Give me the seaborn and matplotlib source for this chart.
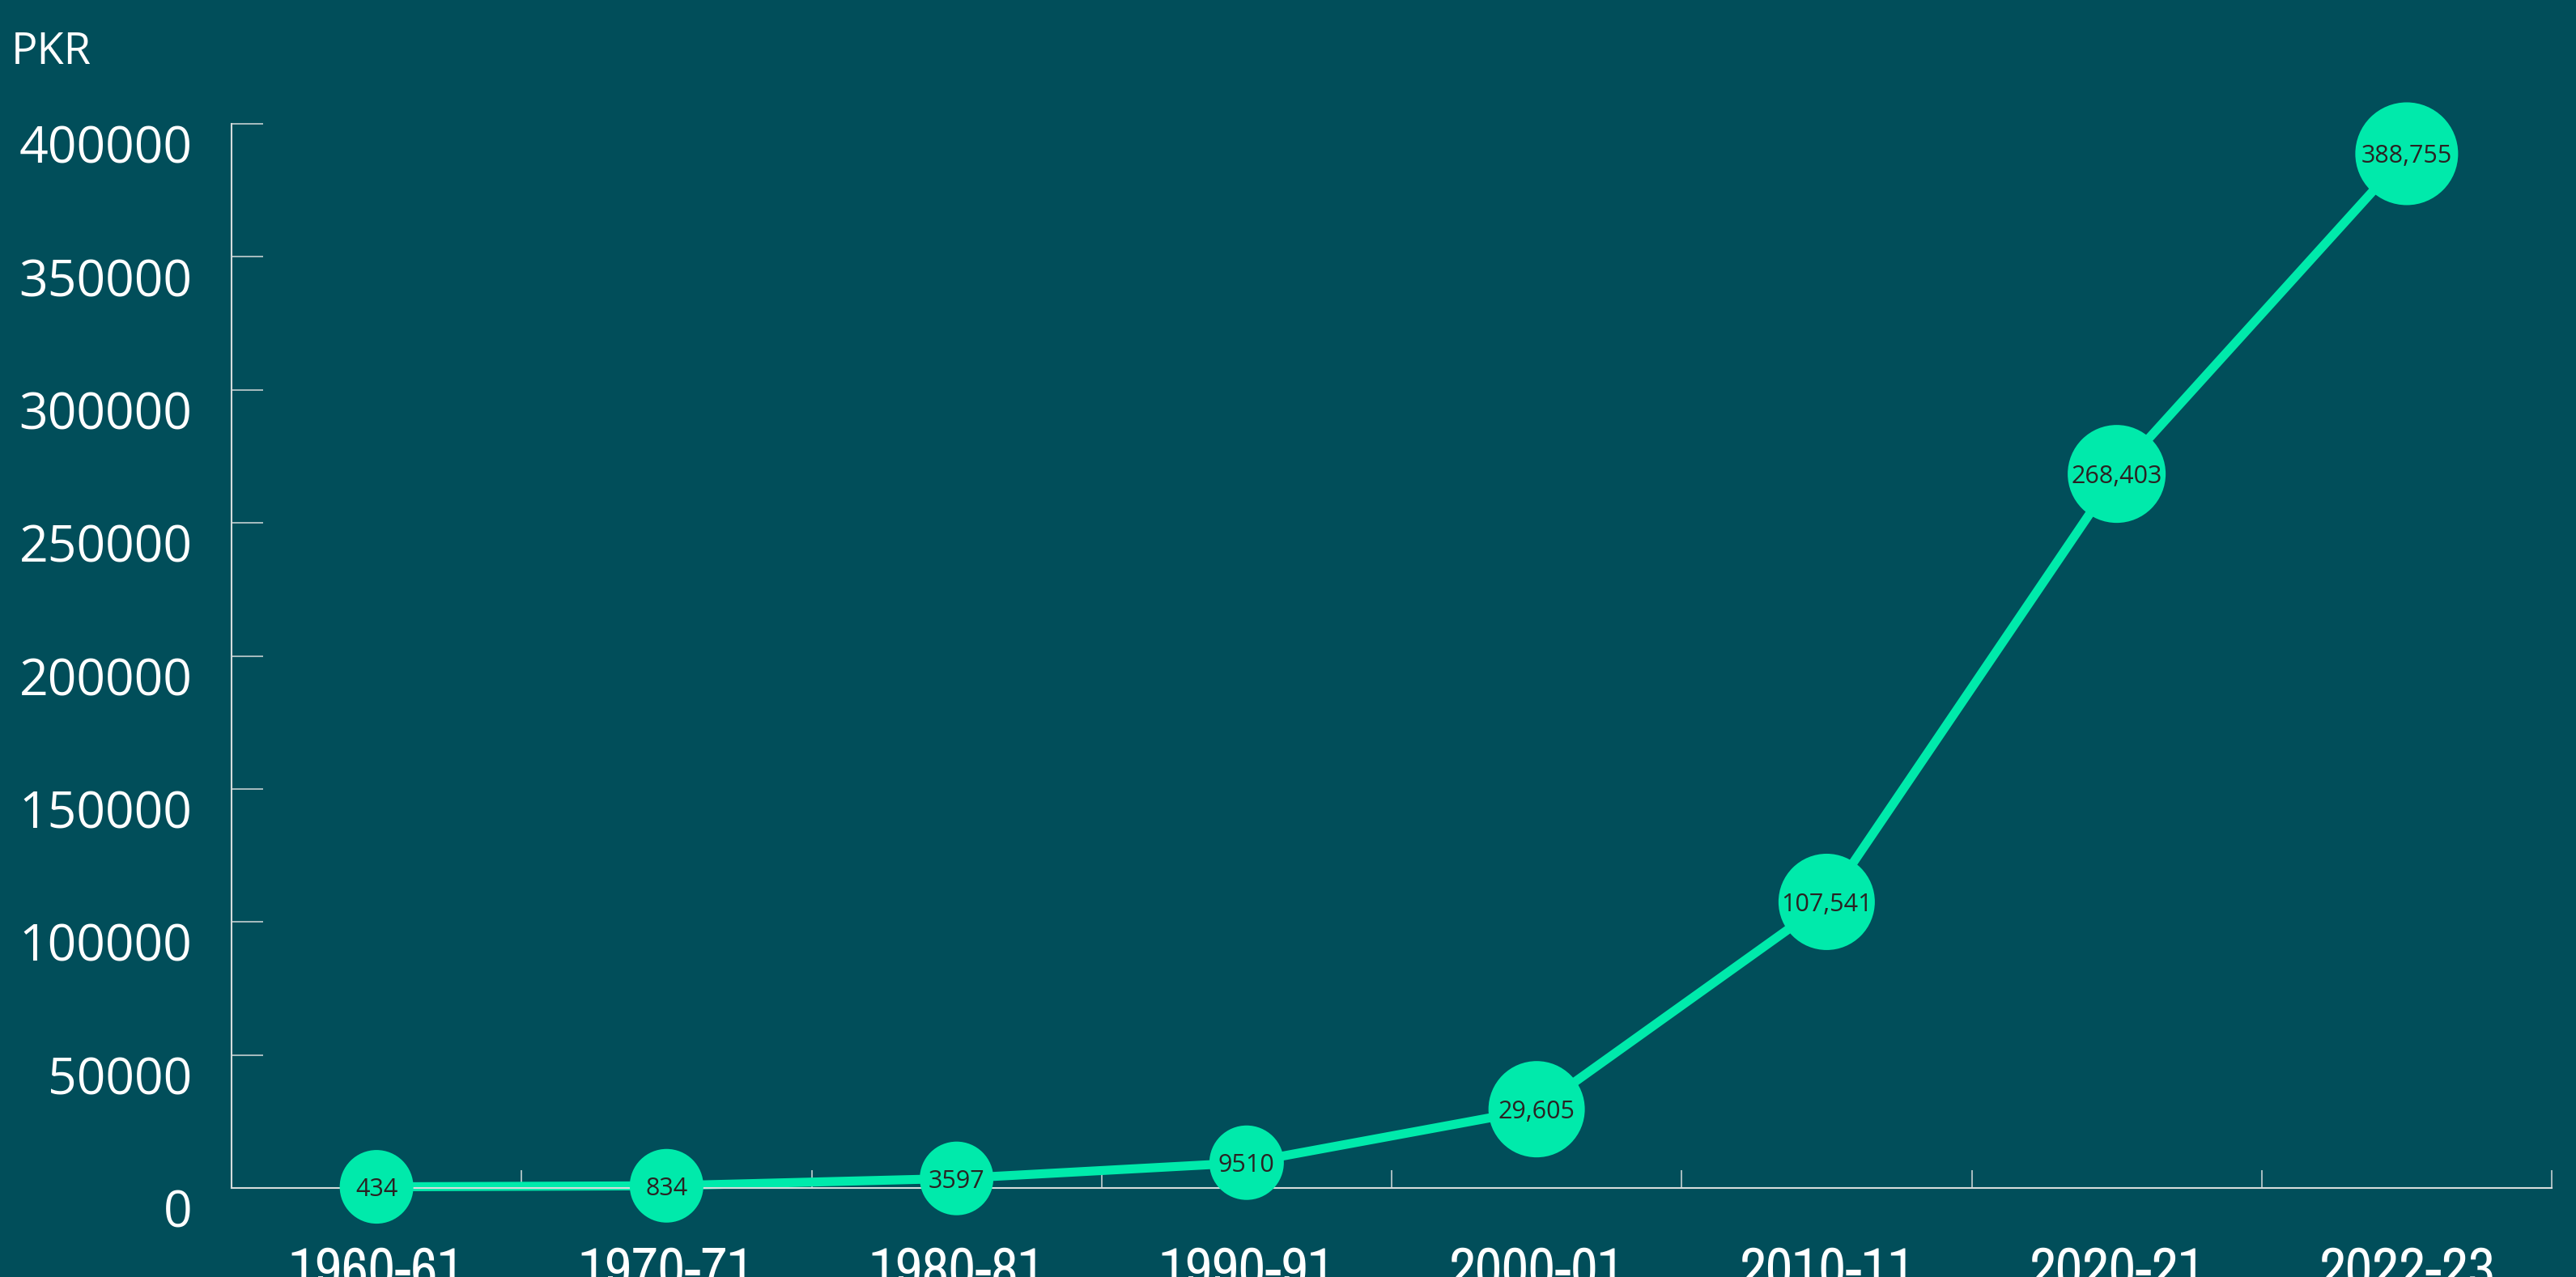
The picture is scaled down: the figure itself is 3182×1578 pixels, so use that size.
import numpy as np
import pandas as pd
import matplotlib
matplotlib.use("Agg")
import matplotlib.pyplot as plt
import matplotlib.transforms as mtransforms
from matplotlib import font_manager
import seaborn as sns

# data
years = ['1960-61', '1970-71', '1980-81', '1990-91', '2000-01', '2010-11', '2020-21', '2022-23']
values = [434, 834, 3597, 9510, 29605, 107541, 268403, 388755]
value_labels = ['434', '834', '3597', '9510', '29,605', '107,541', '268,403', '388,755']
y_ticks = [0, 50000, 100000, 150000, 200000, 250000, 300000, 350000, 400000]

# marker diameters in pixels (style)
marker_px = [91, 91, 91, 92, 119, 119, 121, 127]

bg = '#014e5a'
green = '#00eaab'
axis_col = '#d6dcdc'
text_dark = '#2a2222'

sns.set_theme(style="white")
DPI = 100

fonts = font_manager.fontManager.ttflist
available = {f.name for f in fonts}
main_font = 'Open Sans' if 'Open Sans' in available else 'DejaVu Sans'
plt.rcParams['font.family'] = [main_font, 'DejaVu Sans']

# year labels use a narrow face when one exists
narrow = [f for f in fonts if 'Narrow' in f.name]
condensed = [f for f in fonts if f.stretch in ('condensed', 'semi-condensed', 'extra-condensed')]
if narrow:
    xfont = dict(family=[narrow[0].name, 'DejaVu Sans'], fontsize=52)
elif condensed:
    xfont = dict(family=[condensed[0].name, 'DejaVu Sans'], stretch=condensed[0].stretch, fontsize=40)
else:
    xfont = dict(family=['Roboto', 'DejaVu Sans'], fontsize=38)

df = pd.DataFrame({'pos': np.arange(len(years)), 'value': values})

fig = plt.figure(figsize=(3182 / DPI, 1578 / DPI), dpi=DPI, facecolor=bg)
ax = fig.add_axes([286 / 3182, 110 / 1578, (3152 - 286) / 3182, (1468 - 153) / 1578])
ax.set_facecolor(bg)

sns.lineplot(data=df, x='pos', y='value', ax=ax, color=green, lw=8, zorder=2)
sizes = [(d * 72 / DPI) ** 2 for d in marker_px]
sns.scatterplot(data=df, x='pos', y='value', ax=ax, color=green, s=sizes,
                edgecolor='none', linewidth=0, zorder=3, legend=False)
for coll in ax.collections:
    coll.set_clip_on(False)
for line in ax.lines:
    line.set_clip_on(False)

for i, (v, lab) in enumerate(zip(values, value_labels)):
    ax.text(i, v, lab, ha='center', va='center_baseline', fontsize=22, color=text_dark,
            zorder=4, clip_on=False)

ax.set_xlim(-0.5, len(years) - 0.5)
ax.set_ylim(0, 400000)

# boundary ticks on x, labels at category centres
ax.set_xticks(np.arange(len(years) + 1) - 0.5)
ax.set_xticklabels([])
ax.set_xticks(np.arange(len(years)), minor=True)
ax.set_xticklabels(years, minor=True, color='white', **xfont)
ax.tick_params(axis='x', which='major', bottom=True, direction='in', length=16, width=1.1, color=axis_col)
ax.tick_params(axis='x', which='minor', bottom=True, length=0, pad=52)

ax.set_yticks(y_ticks)
ax.set_yticklabels([str(t) for t in y_ticks], fontsize=45, color='white')
ax.tick_params(axis='y', left=True, direction='in', length=28, width=1.1, color=axis_col, pad=35)
offset = mtransforms.ScaledTranslation(0, -25 / DPI, fig.dpi_scale_trans)
for lab in ax.get_yticklabels():
    lab.set_transform(lab.get_transform() + offset)

for side in ['top', 'right']:
    ax.spines[side].set_visible(False)
for side in ['left', 'bottom']:
    ax.spines[side].set_color(axis_col)
    ax.spines[side].set_linewidth(1.5)

ax.set_xlabel('')
ax.set_ylabel('')

fig.text(14 / 3182, 1 - 79 / 1578, 'PKR', fontsize=39, color='white', ha='left', va='baseline')

fig.savefig('out.png', dpi=DPI, facecolor=bg)
